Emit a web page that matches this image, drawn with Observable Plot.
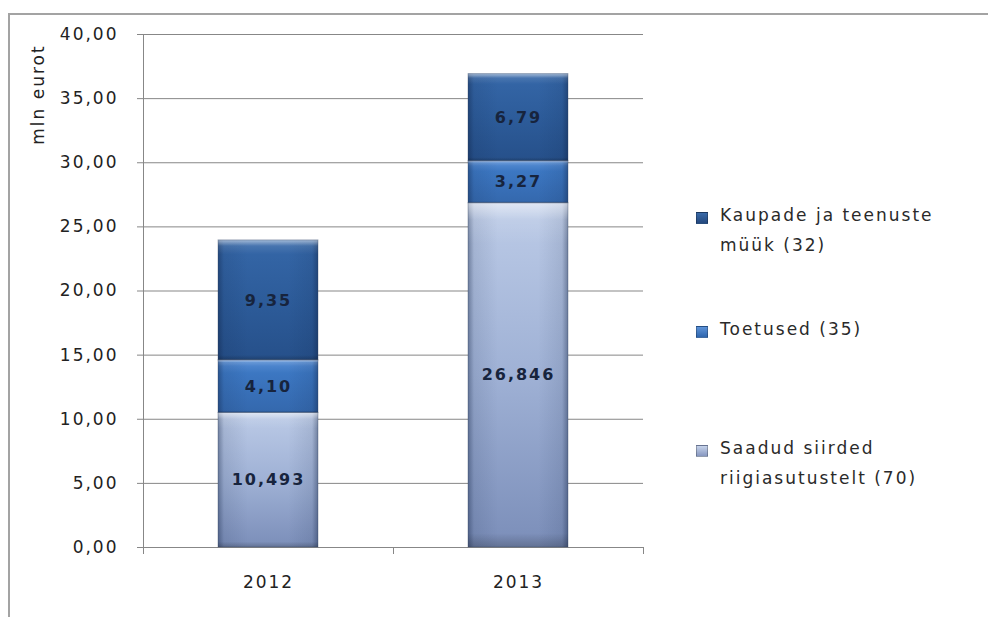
<!DOCTYPE html>
<html>
<head>
<meta charset="utf-8">
<script src="https://cdn.jsdelivr.net/npm/d3@7"></script>
<script src="https://cdn.jsdelivr.net/npm/@observablehq/plot@0.6"></script>
<style>
  html, body { margin: 0; padding: 0; background: #fff; }
  #wrap { position: relative; width: 988px; height: 617px; overflow: hidden; font-family: "DejaVu Sans", sans-serif; }
  #border { position: absolute; left: 8px; top: 13px; width: 1000px; height: 620px; border-top: 2px solid #a3a3a3; border-left: 2px solid #a3a3a3; }
  #chart { position: absolute; left: 0; top: 0; }
  .leg { position: absolute; left: 720px; font-size: 17px; letter-spacing: 2px; line-height: 30px; color: #2a2a2a; white-space: nowrap; }
  .sq { position: absolute; left: 696px; width: 12px; height: 12px; box-sizing: border-box; border: 1px solid rgba(0,0,0,0.25); }
</style>
</head>
<body>
<div id="wrap">
  <div id="border"></div>
  <div id="chart"></div>
</div>
<script>
// ---- data ----
const years = ["2012", "2013"];
const seriesKeys = ["saadud", "toetused", "kaupade"];
const seriesLabels = ["Saadud siirded\nriigiasutustelt (70)", "Toetused (35)", "Kaupade ja teenuste\nmüük (32)"];
const saadud = [10.493, 26.846];
const toetused = [4.10, 3.27];
const kaupade = [9.35, 6.79];
const labelDecimals = [3, 2, 2];
const yTicks = [0, 5, 10, 15, 20, 25, 30, 35, 40];
const yTitle = "mln eurot";

const seriesValues = [saadud, toetused, kaupade];
const data = years.flatMap((year, i) =>
  seriesKeys.map((s, k) => ({year, series: s, value: seriesValues[k][i], dec: labelDecimals[k]}))
);

const fmtComma = (v, d) => v.toFixed(d).replace(".", ",");
const gridColor = "#878787";
const halfBand = 125;

const plot = Plot.plot({
  width: 988,
  height: 617,
  marginLeft: 143,
  marginRight: 345,
  marginTop: 34,
  marginBottom: 70,
  style: {fontFamily: "DejaVu Sans, sans-serif", fontSize: "17px", letterSpacing: "2px", color: "#222", background: "transparent", overflow: "visible"},
  x: {domain: years, padding: 0, label: null},
  y: {domain: [0, 40], label: null},
  color: {domain: seriesKeys, range: ["url(#g-saadud)", "url(#g-toetused)", "url(#g-kaupade)"]},
  marks: [
    Plot.gridY(yTicks.filter(t => t > 0), {stroke: gridColor, strokeOpacity: 1}),
    Plot.axisY(yTicks, {tickSize: 6, tickPadding: 19, tickFormat: d => fmtComma(d, 2), stroke: gridColor, fill: "#222", fontSize: 17, label: null}),
    Plot.axisX({tickSize: 0, tickPadding: 28, fill: "#222", fontSize: 17, label: null}),
    Plot.frame({anchor: "left", stroke: gridColor}),
    Plot.ruleY([0], {stroke: gridColor}),
    Plot.ruleX(years, {x: d => d, dx: -halfBand, y1: 0, y2: 0, insetBottom: -7, stroke: gridColor}),
    Plot.ruleX(years.slice(-1), {x: d => d, dx: halfBand, y1: 0, y2: 0, insetBottom: -7, stroke: gridColor}),
    Plot.barY(data, Plot.stackY({x: "year", y: "value", z: "series", fill: "series", insetLeft: 75, insetRight: 75})),
    Plot.barY(data, Plot.stackY({x: "year", y: "value", z: "series", fill: "url(#g-edge)", insetLeft: 75, insetRight: 75})),
    Plot.barY(data, Plot.stackY({x: "year", y: "value", z: "series", fill: "url(#g-top)", insetLeft: 75, insetRight: 75, stroke: "#2d3f5e", strokeOpacity: 0.35, strokeWidth: 1})),
    Plot.text(data, Plot.stackY({x: "year", y: "value", z: "series", text: d => fmtComma(d.value, d.dec), fontWeight: "bold", fontSize: 16, fill: "#17243d"})),
    Plot.text([yTitle], {text: d => d, frameAnchor: "top-left", textAnchor: "middle", lineAnchor: "middle", rotate: -90, dx: -105, dy: 60, fontSize: 17, fill: "#222"})
  ]
});

// gradients for the bevelled Excel-like bars
const svgEl = plot.tagName.toLowerCase() === "svg" ? plot : plot.querySelector("svg");
const defs = d3.select(svgEl).insert("defs", ":first-child");
function grad(id, stops, vertical = true) {
  const g = defs.append("linearGradient").attr("id", id)
    .attr("x1", 0).attr("y1", 0).attr("x2", vertical ? 0 : 1).attr("y2", vertical ? 1 : 0);
  stops.forEach(([o, c, a]) => g.append("stop").attr("offset", o).attr("stop-color", c).attr("stop-opacity", a ?? 1));
}
grad("g-saadud", [[0, "#bccbe7"], [0.5, "#9fb1d5"], [1, "#7b8eb9"]]);
grad("g-toetused", [[0, "#5a90d6"], [0.25, "#3c77c2"], [1, "#3468ad"]]);
grad("g-kaupade", [[0, "#3567a8"], [0.5, "#2d5c9a"], [1, "#26508a"]]);
grad("g-edge", [[0, "#0a1a3a", 0.4], [0.06, "#0a1a3a", 0.1], [0.3, "#0a1a3a", 0], [0.7, "#0a1a3a", 0], [0.94, "#0a1a3a", 0.1], [1, "#0a1a3a", 0.4]], false);
grad("g-top", [[0, "#ffffff", 0.55], [0.05, "#ffffff", 0.1], [0.12, "#ffffff", 0], [0.96, "#000000", 0], [1, "#000000", 0.2]]);

document.getElementById("chart").appendChild(plot);

// legend (top to bottom: reverse stacking order)
const wrap = document.getElementById("wrap");
const legTops = [200, 314, 433];
const legColors = {
  kaupade: "linear-gradient(#3a6aa8, #24497f)",
  toetused: "linear-gradient(#5c92d8, #2f66ae)",
  saadud: "linear-gradient(#c6d3ea, #8797c0)"
};
seriesKeys.slice().reverse().forEach((key, i) => {
  const k = seriesKeys.indexOf(key);
  const sq = document.createElement("div");
  sq.className = "sq";
  sq.style.top = (legTops[i] + 12) + "px";
  sq.style.background = legColors[key];
  wrap.appendChild(sq);
  const t = document.createElement("div");
  t.className = "leg";
  t.style.top = legTops[i] + "px";
  t.innerHTML = seriesLabels[k].split("\n").join("<br>");
  wrap.appendChild(t);
});
</script>
</body>
</html>
